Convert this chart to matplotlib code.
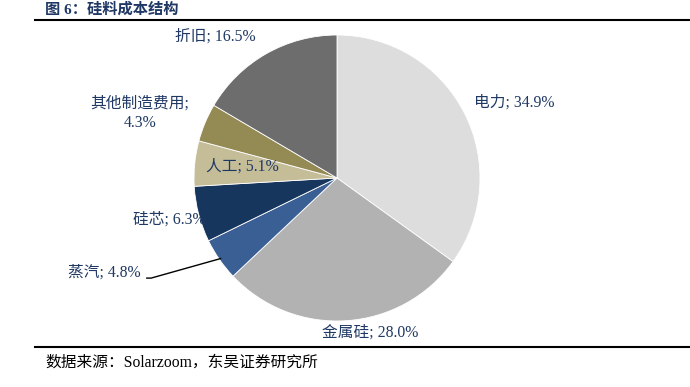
import matplotlib
matplotlib.use("Agg")
import numpy as np
from matplotlib import pyplot as plt
from matplotlib.lines import Line2D

plt.rcParams['font.family'] = ['Liberation Serif', 'Noto Sans CJK SC']

categories = ['电力', '金属硅', '蒸汽', '硅芯', '人工', '其他制造费用', '折旧']
shares = [34.9, 28.0, 4.8, 6.3, 5.1, 4.3, 16.5]
label_texts = ['电力; 34.9%', '金属硅; 28.0%', '蒸汽; 4.8%', '硅芯; 6.3%',
               '人工; 5.1%', '其他制造费用;\n4.3%', '折旧; 16.5%']
colors = ['#DDDDDD', '#B2B2B2', '#3A5F94', '#17365D', '#C4BD97', '#948A54', '#6D6D6D']
# label positions in pie units (radius = 1)
label_pos = [(1.24, 0.53), (0.23, -1.08), (-1.63, -0.66), (-1.17, -0.29),
             (-0.66, 0.08), (-1.38, 0.45), (-0.85, 0.99)]

text_color = '#1F3864'
W, H = 690, 387
cx, cy, r = 337, 178, 143

fig = plt.figure(figsize=(W / 100, H / 100), dpi=100)
ax = fig.add_axes([(cx - r) / W, (H - cy - r) / H, 2 * r / W, 2 * r / H])
wedges, _ = ax.pie(shares, colors=colors, startangle=90, counterclock=False,
                   wedgeprops=dict(linewidth=0.6, edgecolor='white'))
ax.set_xlim(-1, 1)
ax.set_ylim(-1, 1)
ax.set_aspect('equal')
ax.axis('off')

for i, (txt, (x, y)) in enumerate(zip(label_texts, label_pos)):
    if categories[i] == '蒸汽':
        w = wedges[i]
        mid = np.deg2rad((w.theta1 + w.theta2) / 2)
        ax.plot([np.cos(mid) * 0.99, x + 0.33, x + 0.30], [np.sin(mid) * 0.99, y - 0.04, y - 0.04],
                color='black', lw=1, clip_on=False)
    z = 1 if categories[i] == '硅芯' else 5
    ax.text(x, y, txt, ha='center', va='center', fontsize=11.3, color=text_color,
            clip_on=False, zorder=z, linespacing=1.3)

fig.text(45 / W, 1 - 9 / H, '图 6：硅料成本结构', fontsize=11, fontweight='bold',
         color=text_color, va='center', ha='left')
fig.add_artist(Line2D([35 / W, 1], [1 - 20 / H, 1 - 20 / H], color='black', lw=1.5))
fig.add_artist(Line2D([35 / W, 1], [1 - 347 / H, 1 - 347 / H], color='black', lw=1.5))
fig.text(45 / W, 1 - 363 / H, '数据来源：Solarzoom，东吴证券研究所', fontsize=11.3,
         color='black', va='center', ha='left')

fig.savefig('out.png', dpi=100)
